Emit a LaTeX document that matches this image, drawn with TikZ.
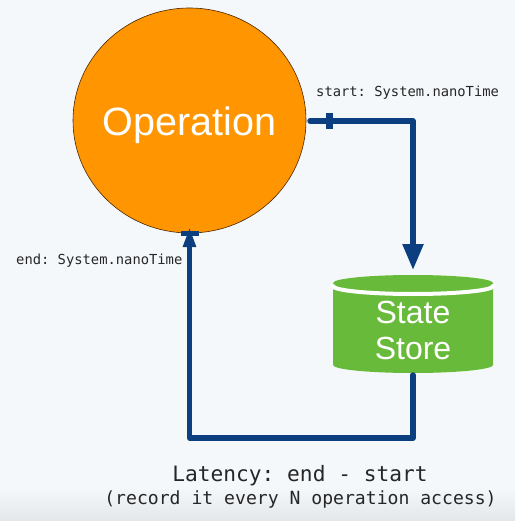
\documentclass[tikz,border=0pt]{standalone}
\usepackage{fontspec}
\setmainfont{Liberation Sans}
\setmonofont{DejaVu Sans Mono}
\usetikzlibrary{arrows.meta,shapes.geometric}
\definecolor{pagebg}{HTML}{F5F8FB}
\definecolor{pagefoot}{HTML}{E4E7E9}
\definecolor{opfill}{HTML}{FF9500}
\definecolor{storefill}{HTML}{68BB3A}
\definecolor{linkblue}{HTML}{0B3F80}
\tikzset{
opshape/.style = {ellipse, draw=black!70!orange, fill=opfill, line width=0.6pt,
                  minimum width=233pt, minimum height=225pt,
                  inner sep=0pt, outer sep=0pt,
                  text=white, font=\fontsize{39.5}{42}\selectfont}
}
\tikzset{
storebox/.style = {rectangle, minimum width=160pt, minimum height=105pt,
                   inner sep=0pt, outer sep=0pt, align=center, text=white,
                   font=\fontsize{32}{36}\selectfont}
}
\tikzset{
link/.style = {draw=linkblue, line width=5.4pt, line join=round, line cap=round},
tick/.style = {fill=linkblue, inner sep=0pt, outer sep=0pt},
code/.style = {font=\ttfamily\fontsize{#1}{#1}\selectfont, text=black!85, inner sep=0pt},
code/.default = 13.8
}
\begin{document}
\begin{tikzpicture}[x=1pt, y=-1pt]
    \useasboundingbox (0,0) rectangle (515,521);
    \fill[pagebg] (0,0) rectangle (515,521);
    \shade[top color=pagebg, bottom color=pagefoot] (0,488) rectangle (515,521);

    \node[opshape] (opNode) at (189.5,120.5) {\raisebox{-15pt}[0pt][0pt]{\makebox[0pt]{Operation}}};

    % the store is drawn by hand, its text sits in the node
    \fill[storefill] (333,283) arc[x radius=80, y radius=8, start angle=180, end angle=360]
        -- (493,365) arc[x radius=80, y radius=8, start angle=0, end angle=180] -- cycle;
    \draw[white, line width=4pt, line cap=round] (333,286) arc[x radius=80, y radius=8, start angle=180, end angle=0];
    \node[storebox] (storeNode) at (413,322.5) {\rule{0pt}{39pt}State\\Store};

    \coordinate (startPoint) at ([xshift=4pt]opNode.east |- 0,121);
    \coordinate (bottomLine) at (300,438);

    \draw[link, -{Triangle[length=26pt, width=20pt]}] (startPoint) -| (storeNode.north);
    \draw[link, -{Triangle[length=20pt, width=12pt]}] (storeNode.south) |- (bottomLine) -| ([yshift=6pt]opNode.south);

    \node[tick, minimum width=7pt, minimum height=16pt] (startTick) at (329.5,121) {};
    \node[tick, minimum width=18pt, minimum height=5pt] (endTick) at (189.5,233) {};

    \node[code, anchor=west] (startLabel) at (316,92.5) {start: System.nanoTime};
    \node[code, anchor=west] (endLabel) at (16,260.5) {end: System.nanoTime};
    \node[code=21.2] (latencyLabel) at (300,475.5) {Latency: end - start};
    \node[code=18.1] (recordLabel) at (300.5,500) {(record it every N operation access)};
\end{tikzpicture}
\end{document}
